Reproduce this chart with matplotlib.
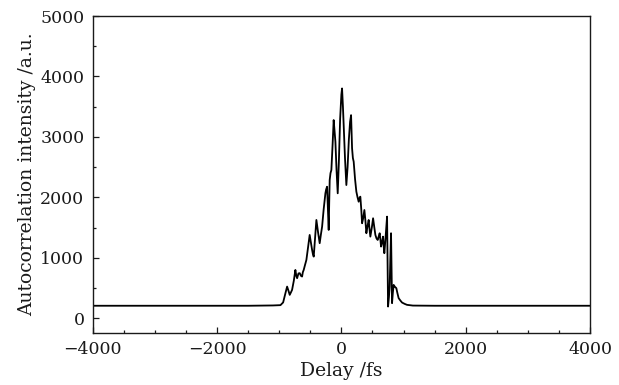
import matplotlib
matplotlib.use("Agg")
import matplotlib.pyplot as plt
from matplotlib.ticker import MultipleLocator

delay_fs = [
    -4000, -3000, -2000, -1500, -1100, -980, -937, -900, -873, -850, -831, -810,
    -793, -765, -740, -725, -712, -690, -670, -650, -632, -620, -606, -585,
    -563, -535, -510, -490, -471, -458, -445, -425, -402, -375, -349, -330,
    -310, -285, -257, -245, -230, -220, -204, -196, -188, -175, -161, -140,
    -124, -110, -96, -78, -59, -40, -20, 0, 11, 25, 37, 58, 80, 100,
    120, 140, 156, 172, 185, 198, 220, 241, 260, 278, 292, 305, 320, 333,
    350, 370, 386, 402, 420, 439, 452, 466, 490, 510, 530, 547, 565, 584,
    600, 616, 628, 638, 655, 670, 680, 691, 712, 735, 751, 765, 777, 788,
    799, 815, 828, 841, 860, 884, 900, 921, 950, 976, 1020, 1056, 1150,
    1500, 2000, 3000, 4000,
]
intensity_au = [
    205, 205, 205, 205, 210, 215, 260, 413, 522, 450, 385, 430,
    468, 620, 798, 700, 661, 740, 744, 700, 688, 760, 798, 880,
    963, 1180, 1377, 1250, 1129, 1060, 1018, 1300, 1625, 1420, 1240, 1380,
    1514, 1800, 2066, 2130, 2175, 1900, 1460, 1900, 2286, 2400, 2451, 2900,
    3278, 3100, 2919, 2450, 2066, 2600, 3300, 3700, 3802, 3500, 3195, 2650,
    2203, 2500, 2950, 3250, 3360, 2810, 2650, 2589, 2300, 2093, 2000, 1927,
    1990, 2010, 1800, 1570, 1650, 1790, 1620, 1405, 1520, 1625, 1480, 1349,
    1500, 1653, 1500, 1377, 1320, 1294, 1350, 1405, 1300, 1184, 1260, 1349,
    1200, 1074, 1350, 1680, 192, 350, 522, 1000, 1405, 248, 420, 550,
    520, 496, 420, 331, 290, 258, 235, 220, 208, 205, 205, 205, 205,
]

x_major = [-4000, -2000, 0, 2000, 4000]
y_major = [0, 1000, 2000, 3000, 4000, 5000]

plt.rcParams["font.family"] = ["DejaVu Serif"]

fig = plt.figure(figsize=(6.19, 3.85), dpi=100)
ax = fig.add_axes([0.1498, 0.136, 0.8034, 0.8224])
ax.plot(delay_fs, intensity_au, color="black", linewidth=1.3)

ax.set_xlim(-4000, 4000)
ax.set_ylim(-240, 5000)
ax.set_xticks(x_major)
ax.set_yticks(y_major)
ax.set_xticklabels(["\u22124000", "\u22122000", "0", "2000", "4000"])
ax.xaxis.set_minor_locator(MultipleLocator(500))
ax.yaxis.set_minor_locator(MultipleLocator(500))
ax.tick_params(which="both", direction="in", top=False, right=False,
               labelsize=12.5, colors="#1a1a1a")
ax.tick_params(which="major", length=4.5, width=0.9, pad=6)
ax.tick_params(which="minor", length=2.5, width=0.9)
for s in ax.spines.values():
    s.set_linewidth(1.0)
    s.set_color("#1a1a1a")

ax.set_xlabel("Delay /fs", fontsize=13.5, labelpad=3, color="#1a1a1a")
ax.set_ylabel("Autocorrelation intensity /a.u.", fontsize=13.5, labelpad=3,
              color="#1a1a1a")

fig.savefig("out.png", dpi=100)
